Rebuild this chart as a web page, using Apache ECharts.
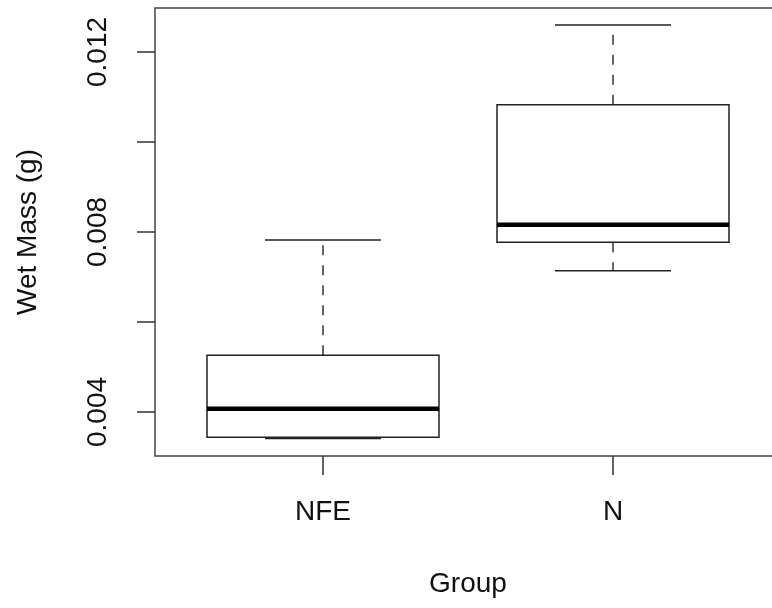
<!DOCTYPE html>
<html>
<head>
<meta charset="utf-8">
<script src="https://cdn.jsdelivr.net/npm/echarts@6/dist/echarts.min.js"></script>
<style>html,body{margin:0;padding:0;background:#fff}#chart{width:772px;height:608px}</style>
</head>
<body>
<div id="chart"></div>
<script>
// Data
var categories = ['NFE', 'N'];
var lowerWhisker = [0.00341, 0.00714];
var q1 = [0.00344, 0.00777];
var median = [0.00407, 0.00816];
var q3 = [0.00526, 0.01083];
var upperWhisker = [0.00782, 0.0126];
var yTicks = [0.004, 0.006, 0.008, 0.010, 0.012];
var yLabels = [0.004, 0.008, 0.012];
var xTicks = [1, 2];

var boxData = categories.map(function (c, i) {
  return [i + 1, lowerWhisker[i], q1[i], median[i], q3[i], upperWhisker[i]];
});

var chart = echarts.init(document.getElementById('chart'), null, {renderer: 'canvas'});
var FONT = 'Liberation Sans, Arial, sans-serif';

function renderBox(params, api) {
  var x = api.value(0);
  var half = api.size([0.8, 0])[0] / 2;
  var capHalf = api.size([0.4, 0])[0] / 2;
  var pLow = api.coord([x, api.value(1)]);
  var pQ1 = api.coord([x, api.value(2)]);
  var pMed = api.coord([x, api.value(3)]);
  var pQ3 = api.coord([x, api.value(4)]);
  var pHigh = api.coord([x, api.value(5)]);
  var cx = pMed[0];
  var lineStyle = {stroke: '#222', lineWidth: 1.5, fill: null};
  var dashStyle = {stroke: '#333', lineWidth: 1.5, lineDash: [10, 10], fill: null};
  return {
    type: 'group',
    children: [
      {type: 'line', shape: {x1: cx, y1: pQ3[1], x2: cx, y2: pHigh[1]}, style: dashStyle},
      {type: 'line', shape: {x1: cx, y1: pQ1[1], x2: cx, y2: pLow[1]}, style: dashStyle},
      {type: 'line', shape: {x1: cx - capHalf, y1: pHigh[1], x2: cx + capHalf, y2: pHigh[1]}, style: lineStyle},
      {type: 'line', shape: {x1: cx - capHalf, y1: pLow[1], x2: cx + capHalf, y2: pLow[1]}, style: lineStyle},
      {type: 'rect', shape: {x: cx - half, y: pQ3[1], width: half * 2, height: pQ1[1] - pQ3[1]}, style: {stroke: '#222', lineWidth: 1.5, fill: '#fff'}},
      {type: 'line', shape: {x1: cx - half, y1: pMed[1], x2: cx + half, y2: pMed[1]}, style: {stroke: '#000', lineWidth: 4.5}}
    ]
  };
}

chart.setOption({
  animation: false,
  backgroundColor: '#fff',
  grid: {
    left: 155, top: 8, right: -9, bottom: 152,
    show: true, borderColor: '#444', borderWidth: 1.5, backgroundColor: 'transparent',
    outerBoundsMode: 'none', containLabel: false
  },
  xAxis: {
    type: 'value',
    min: 0.4207, max: 2.5793,
    name: 'Group', nameLocation: 'middle', nameGap: 114,
    nameTextStyle: {fontFamily: FONT, fontSize: 28, color: '#111'},
    axisLine: {show: false},
    splitLine: {show: false},
    axisTick: {show: true, length: 19, customValues: xTicks, lineStyle: {color: '#333', width: 1.5}},
    axisLabel: {
      show: true, margin: 42, customValues: xTicks,
      fontFamily: FONT, fontSize: 28, color: '#111',
      formatter: function (v) { return categories[Math.round(v) - 1] || ''; }
    }
  },
  yAxis: {
    type: 'value',
    min: 0.0030222, max: 0.0129778,
    name: 'Wet Mass (g)', nameLocation: 'middle', nameGap: 113, nameRotate: 90,
    nameTextStyle: {fontFamily: FONT, fontSize: 28, color: '#111'},
    axisLine: {show: false},
    splitLine: {show: false},
    axisTick: {show: true, length: 18, customValues: yTicks, lineStyle: {color: '#333', width: 1.5}},
    axisLabel: {
      show: true, margin: 43, rotate: 90, customValues: yLabels,
      fontFamily: FONT, fontSize: 28, color: '#111',
      formatter: function (v) { return v.toFixed(3); }
    }
  },
  series: [{
    type: 'custom',
    renderItem: renderBox,
    encode: {x: 0, y: [1, 2, 3, 4, 5]},
    data: boxData,
    clip: false
  }]
});
</script>
</body>
</html>
